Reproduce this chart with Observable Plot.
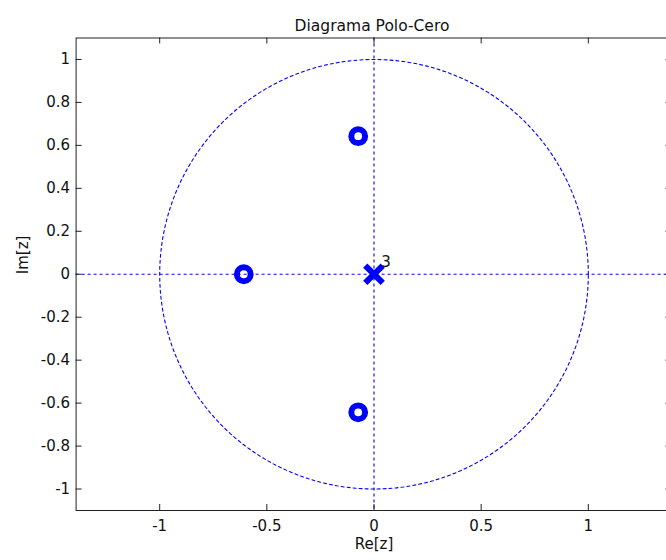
<!DOCTYPE html>
<html>
<head>
<meta charset="utf-8">
<script src="https://cdn.jsdelivr.net/npm/d3@7"></script>
<script src="https://cdn.jsdelivr.net/npm/@observablehq/plot@0.6"></script>
<style>
html, body { margin: 0; padding: 0; background: #fff; overflow: hidden; }
</style>
</head>
<body>
<div id="chart"></div>
<script>
// ---- Data ----
const zerosRe = [-0.6076, -0.0737, -0.0737];
const zerosIm = [0, 0.643, -0.643];
const polesRe = [0];
const polesIm = [0];
const poleMultiplicity = [3];

const xTicks = [-1, -0.5, 0, 0.5, 1];
const yTicks = [-1, -0.8, -0.6, -0.4, -0.2, 0, 0.2, 0.4, 0.6, 0.8, 1];
const xDomain = [-1.39, 1.39];
const yDomain = [-1.1, 1.1];
const axisLines = [0];

const titleText = "Diagrama Polo-Cero";
const xLabelText = "Re[z]";
const yLabelText = "Im[z]";

// ---- Derived tables ----
const zeros = zerosRe.map((re, i) => ({re, im: zerosIm[i]}));
const poles = polesRe.map((re, i) => ({re, im: polesIm[i], mult: poleMultiplicity[i]}));
const unitCircle = d3.range(0, 361, 2).map(a => ({
  re: Math.cos(a * Math.PI / 180),
  im: Math.sin(a * Math.PI / 180)
}));

const blue = "#0000ff";
const ink = "#222";
const fmt = d => String(d);

const chart = Plot.plot({
  width: 672,
  height: 560,
  marginLeft: 75.6,
  marginRight: 0.6,
  marginTop: 37.5,
  marginBottom: 50,
  style: {fontFamily: "'DejaVu Sans', sans-serif", fontSize: "15px", maxWidth: "none", background: "#fff", color: "#111"},
  x: {domain: xDomain},
  y: {domain: yDomain},
  marks: [
    // dashed reference axes through the origin
    Plot.ruleX(axisLines, {x: d => d, stroke: blue, strokeWidth: 1.1, strokeDasharray: "3,3"}),
    Plot.ruleY(axisLines, {y: d => d, stroke: blue, strokeWidth: 1.1, strokeDasharray: "3,3"}),
    // unit circle (dotted)
    Plot.line(unitCircle, {x: "re", y: "im", stroke: blue, strokeWidth: 1.1, strokeDasharray: "3,3", curve: "linear"}),
    // frame and inward ticks on all sides
    Plot.frame({stroke: ink, strokeWidth: 1}),
    Plot.ruleX(xTicks, {x: d => d, y1: yDomain[0], y2: yDomain[0], insetBottom: 6, stroke: ink}),
    Plot.ruleX(xTicks, {x: d => d, y1: yDomain[1], y2: yDomain[1], insetBottom: -6, stroke: ink}),
    Plot.ruleY(yTicks, {y: d => d, x1: xDomain[0], x2: xDomain[0], insetRight: -6, stroke: ink}),
    Plot.ruleY(yTicks, {y: d => d, x1: xDomain[1], x2: xDomain[1], insetLeft: -6, stroke: ink}),
    Plot.axisX(xTicks, {anchor: "bottom", tickSize: 0, tickPadding: 9.5, tickFormat: fmt, label: null}),
    Plot.axisY(yTicks, {anchor: "left", tickSize: 0, tickPadding: 6, tickFormat: fmt, label: null}),
    // zeros
    Plot.dot(zeros, {x: "re", y: "im", r: 6.9, stroke: blue, strokeWidth: 6, fill: "none"}),
    // poles
    Plot.dot(poles, {x: "re", y: "im", symbol: "times", r: 8, stroke: blue, strokeWidth: 6}),
    Plot.text(poles, {x: "re", y: "im", text: d => String(d.mult), dx: 12, dy: -12, fontSize: 15, fill: "#111"}),
    // title and axis labels
    Plot.text([titleText], {frameAnchor: "top", text: d => d, dy: -18, dx: -2, fontSize: 15.5, fill: "#111"}),
    Plot.text([xLabelText], {frameAnchor: "bottom", text: d => d, dy: 38, fontSize: 15, fill: "#111"}),
    Plot.text([yLabelText], {frameAnchor: "left", text: d => d, dx: -53, rotate: -90, fontSize: 15, fill: "#111"})
  ]
});

document.getElementById("chart").appendChild(chart);
</script>
</body>
</html>
